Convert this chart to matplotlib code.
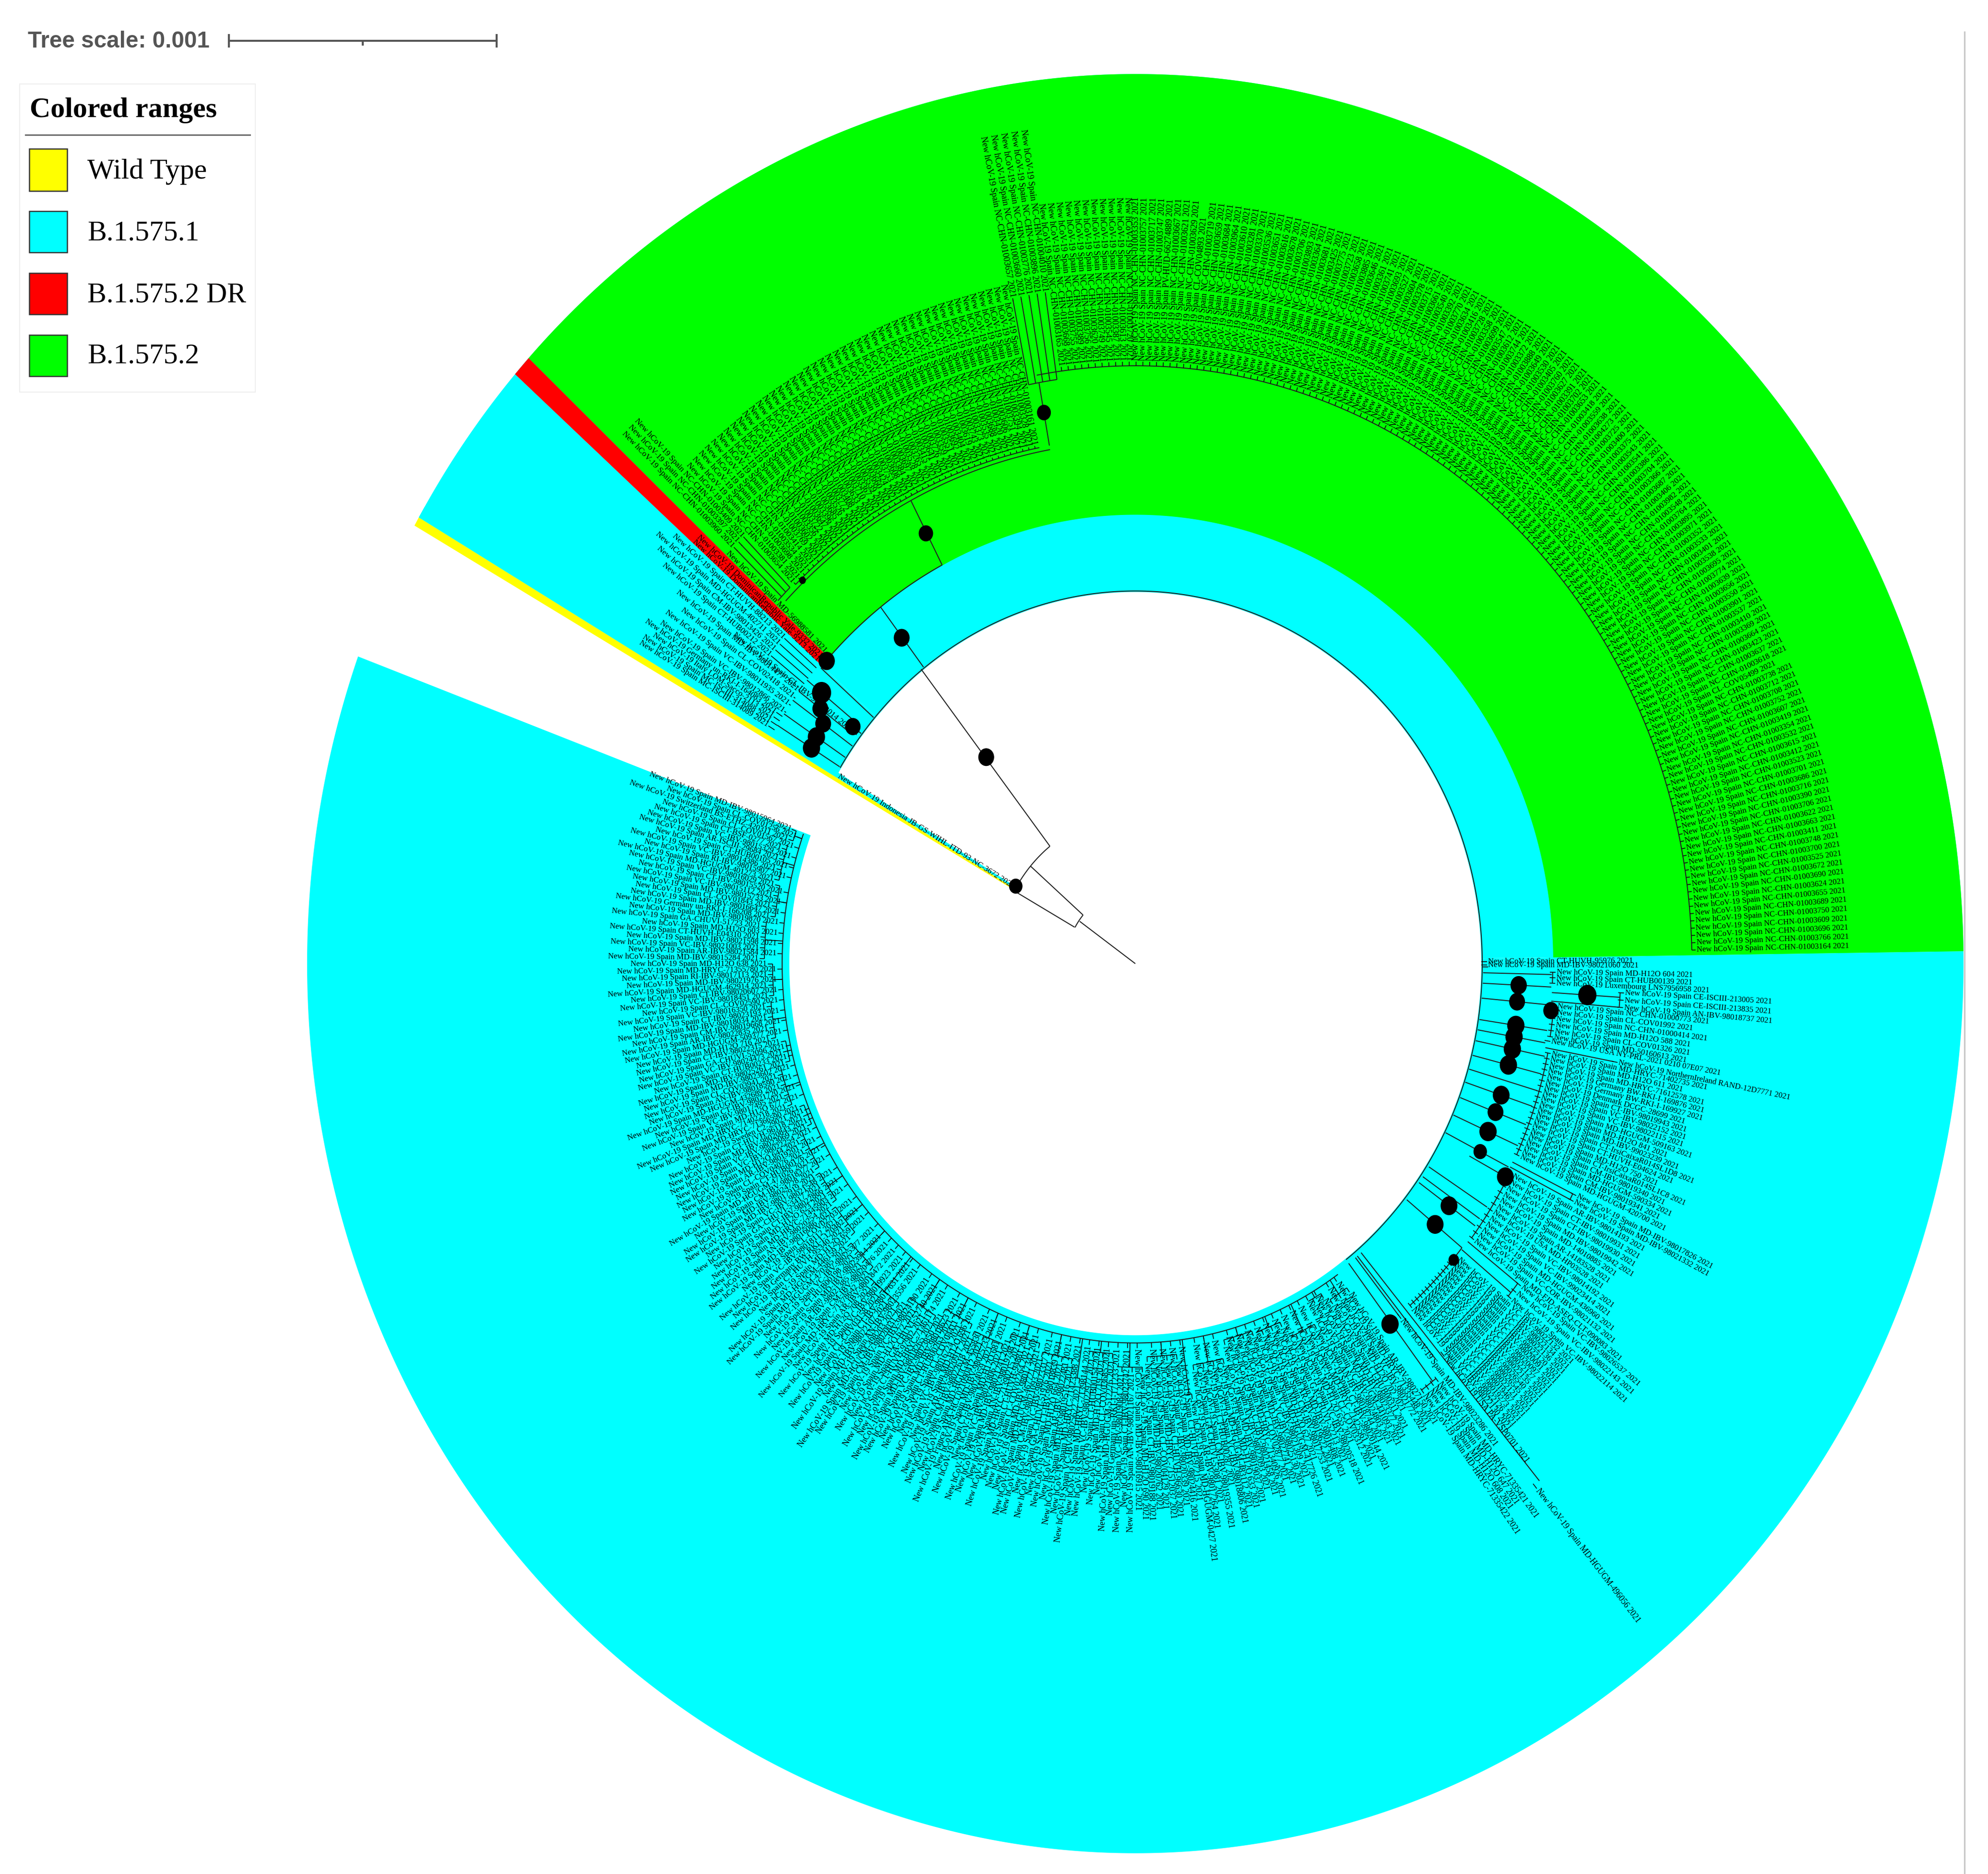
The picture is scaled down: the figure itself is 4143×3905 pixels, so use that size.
import numpy as np
import matplotlib
matplotlib.use("Agg")
import matplotlib.pyplot as plt
from matplotlib.collections import LineCollection
from matplotlib.patches import Rectangle, Ellipse

# ---------- data ----------
legend_names = ["Wild Type", "B.1.575.1", "B.1.575.2 DR", "B.1.575.2"]
legend_colors = ["#ffff00", "#00ffff", "#ff0000", "#00ff00"]

# colored ranges: colour, angle from, angle to, inner radius (outer = tree edge)
ranges = [
    ("#00ffff", -200.2, 0.8, 721), ("#00ffff", 0.8, 138.5, 721), ("#00ffff", 138.5, 149.9, 721),
    ("#00ffff", 149.1, 149.9, 291), ("#ffff00", 149.9, 150.5, 291),
    ("#00ff00", 0.8, 137.1, 871), ("#ff0000", 137.1, 138.5, 871),
]

green_low = """3164 3766 3696 3609 3750 3689 3655 3624 3690 3672 3525 3700 3748 3411 3663 3622 3706 3390 3716 3686
3701 3523 3412 3615 3532 3354 3419 3607 3752 3708 3712 3738 CL-COV05499 3618 3637 3423 3664 3369 3410 3537
3901 3550 3656 3639 3774 3695 3538 3401 3533 3352 3971 3895 3764 3548 3982 3406 3687 3366 3704 3386
3541 3543 3375 3400 3725 4273 3638 3559 3418 3653 3702 3391 3627 3760 3405 3530 3649 3888 3372 3744
3612 3547 3699 3358 3728 3416 3634 3770 3392 3540 3661 3715 3378 3604 3527 3693 3741 3361 3646 3885
3658 3723 3775 3425 3681 3364 3893 3706 3678 3616 3651 3536 3370 3281 3610 3964 3684 3659 3719 CL-COV04893
3629 3621 3667 PV-HUD-66274889 3747 3717 3757 3353 3720 3613 3387 3545 3749 3620 3756 3389 3755 3668 3165""".split()
green_top = "4010 3896 3776 3660 3657".split()
green_left = """3161 3328 3394 3751 3606 3420 3688 3535 3373 3743 3619 3404 3692 3551 3359 3726 3641 3415 3765 3528
3697 3384 3608 3753 3424 3660 3539 3367 3710 3633 3408 3772 3526 3685 3396 3647 3722 3356 3602 3769
3414 3534 3698 3381 3654""".split()
green_long = "3409 3397 3960".split()
green_single = ["MD-56988581"]
dominican = ["DominicanRepublic:Yale-9332", "DominicanRepublic:Yale-9213"]
indonesia = ["Indonesia:JB-GS-WIHL-ITD-93-NC-3672"]

cluster_left_a = ["CL-IBV-98012014"]
cluster_left_b1 = ["CT-HUVH-88213", "MD-HGUGM-402711", "CM-IBV-98013426", "CT-HUB00212"]
cluster_left_b2 = ["MD-IBV-98014477", "CL-COV02418", "VC-IBV-98011935", "VC-IBV-98012866"]
cluster_left_c = ["Germany:un-RKI-I-164083", "Italy:LOM-Sacco-2113", "MC-ISCIII-314088", "MC-ISCIII-314089"]

right_clades = [
    (0.5, 0.0, 735, ["CT-HUVH-95976", "MD-IBV-98021060"]),
    (-0.9, -2.3, 878, ["MD-H12O 604", "CT-HUB00139", "Luxembourg:LNS7956958"]),
    (-3.0, -4.6, 1022, ["CE-ISCIII-213005", "CE-ISCIII-213835", "AN-IBV-98018737"]),
    (-5.2, -9.1, 884, ["NC-CHN-01000773", "CL-COV01992", "NC-CHN-01000414", "MD-H12O 588", "CL-COV01326", "MD-50160613"]),
    (-9.7, -9.7, 880, ["USA:NY-PRL-2021 0210 07E07"]),
    (-10.6, -10.6, 1025, ["NorthernIreland:RAND-12D7771"]),
    (-11.2, -24.8, 885, ["MD-HRYC-71402735", "MD-H12O 611", "MD-HRYC-71612578", "Germany:BW-RKI-I-169876", "Germany:BW-RKI-I-169927",
                         "Denmark:DCGC-28699", "CT-IBV-98019943", "VC-IBV-98022152", "VC-IBV-98022115", "MD-HGUGM-509163",
                         "MD-H12O 841", "MD-IBV-99023239", "CT-IrsiCaixaR014SL1D8", "CT-HUVH-E04624", "MD-H12O 750",
                         "CT-IrsiCaixaR014SL1C8", "CM-IBV-98019340", "MD-HGUGM-590334", "CM-IBV-98019341", "MD-HGUGM-420700"]),
    (-25.9, -26.6, 1025, ["MD-IBV-98017826", "MD-IBV-98021332"]),
    (-27.4, -37.0, 888, ["AR-IBV-98014193", "CT-IBV-98019931", "CT-IBV-98019930", "MD-IBV-98019942", "MD-14010885",
                         "AR-14183528", "USA:MD-HP03528", "VC-IBV-98014192", "VC-IBV-99023414", "MD-HGUGM-436960",
                         "VC-COR-IBV-98021132", "MD-FJD-ASEQ-CLT-090083"]),
    (-37.7, -39.5, 1020, ["VC-IBV-98026537", "VC-IBV-98022143", "VC-IBV-98022114"]),
    (-40.2, -49.0, 884, ["VC-IBV-98022132", "VC-IBV-98022134", "VC-IBV-98022136", "VC-IBV-98022120", "VC-IBV-98020091",
                         "VC-IBV-98020097", "VC-IBV-98022127", "VC-IBV-98022135", "VC-IBV-98026540", "VC-IBV-98026545",
                         "VC-IBV-98022121", "VC-IBV-98019467", "VC-IBV-98019273", "VC-IBV-98022126", "VC-IBV-98022130"]),
    (-49.6, -49.6, 1000, ["USA:PA-VSP0701"]),
    (-50.4, -50.4, 1320, ["MD-HGUGM-496056"]),
    (-51.0, -51.0, 886, ["MD-IBV-98023286"]),
    (-51.9, -54.0, 1030, ["MD-HRYC-71335421", "MD-H12O 647", "MD-H12O 608", "MD-HRYC-71335422"]),
]

# big B.1.575.1 clade, clockwise from lower right: tip radius, strain names
big_clades = [
    (780, "AR-IBV-98027150,MD-HRYC-71335448,VC-IBV-98021772,MD-H12O 702,CT-HUB00311"),
    (760, "MD-IBV-98023377,MD-HGUGM-441093,VC-IBV-98024803,AN-IBV-98018744"),
    (805, "CT-IBV-98020144,MD-HRYC-71425561,CL-COV03312,MD-H12O 655,VC-IBV-98020518,GA-CHUVI-52213"),
    (770, "MD-IBV-98016408,AR-IBV-98019622,CM-IBV-98017753,MD-H12O 627,MD-HGUGM-417726,VC-IBV-98021309"),
    (765, "VC-IBV-98025130,MD-IBV-98022741,CL-COV02877,MD-HRYC-71340926,CT-IBV-98021458,AN-IBV-98022093,MD-IBV-98019037"),
    (800, "MD-H12O 633,MD-HGUGM-483112,VC-IBV-98018806,CT-HUB00287,CM-IBV-98019355,GA-CHUVI-53081,AR-IBV-98017264"),
    (855, "MD-HGUGM-0427,CT-HUVH-97215"),
    (775, "MD-IBV-98024416,VC-IBV-98020339,CT-HUVH-96630,MD-HRYC-71512037,CL-COV04129,MD-IBV-98020762,CT-IBV-98019188"),
    (795, "MD-H12O 690,MD-IBV-98016915,AN-IBV-98021167,CT-IBV-98023742,VC-IBV-98019084,Germany:un-RKI-I-171233"),
    (770, "MD-HGUGM-512276,CL-COV03685,MD-H12O 719,CT-HUB00154,VC-IBV-98022977,MD-HRYC-71398144"),
    (825, "VC-IBV-98025622,MD-HRYC-71423388"),
    (790, "MD-IBV-98019516,AR-IBV-98022481,MD-H12O 664,CT-IBV-98018839,GA-CHUVI-51976,VC-IBV-98023317,CM-IBV-98021093"),
    (775, "MD-HGUGM-467721,MD-IBV-98017342,CL-COV02264,CT-HUVH-94881,MD-HRYC-71390215,AN-IBV-98019748,MD-IBV-98021241"),
    (800, "VC-IBV-98021806,MD-H12O 681,CT-IBV-98024059,MD-IBV-98025733,France:ARA-HCL021090412,MD-HGUGM-455830,CM-IBV-98022618"),
    (790, "AR-IBV-98020917,MD-H12O 696,VC-IBV-98016724,CL-COV04411,CT-HUB00263,MD-IBV-98018623,VC-IBV-98023850"),
    (812, "MD-IBV-98018265,MD-HRYC-71461174,CT-HUVH-97902,GA-CHUVI-52740,MD-H12O 672,VC-IBV-98024190,CM-IBV-98020031"),
    (835, "MD-HGUGM-498203,AN-IBV-98023556,MD-IBV-98022107,CT-IBV-98017631,CL-COV03158,VC-IBV-98019923,MD-H12O 708,AR-IBV-98018472"),
    (815, "MD-HRYC-71378642,CM-IBV-98020476,AR-IBV-98021385,MD-IBV-98023914,CT-HUB00198,VC-IBV-98025377,MD-HGUGM-470385"),
    (795, "MD-HGUGM-446159,MD-H12O 659,CT-HUVH-95340,Germany:BW-RKI-I-170482,VC-IBV-98018112,CL-COV02703,MD-IBV-98016086"),
    (785, "AN-IBV-98020254,MD-HRYC-71445903,MD-H12O 623,CT-IBV-98022866,GA-CHUVI-53417,VC-IBV-98021548,MD-IBV-98017919"),
    (780, "MD-IBV-98024728,CM-IBV-98018377,MD-HGUGM-471026,CT-HUB00176,CL-COV04076,AR-IBV-98019201,MD-H12O 644,VC-IBV-98022254"),
    (755, "VC-IBV-98023069,MD-IBV-98020843,CT-HUVH-96118,Sweden:C2-29021,MD-HRYC-71366590"),
    (778, "MD-HRYC-71402218,MD-H12O 677,VC-IBV-98017495,CT-IBV-98021720,MD-HGUGM-432689,AN-IBV-98018590,CL-COV03941,MD-IBV-98023602"),
    (756, "MD-IBV-98025261,CT-HUB00233,VC-IBV-98024473,GA-CHUVI-52096,CT-IBV-98022315"),
    (775, "MD-H12O 716,MD-HGUGM-509377,AR-IBV-98022835,CM-IBV-98019668,MD-IBV-98018034,CT-IBV-98023193,VC-IBV-98016350,CL-COV02590"),
    (768, "VC-IBV-98018451,CT-IBV-98020607,MD-HGUGM-462914,MD-IBV-98021976,RI-IBV-98017113,MD-HRYC-71355780,MD-H12O 638"),
    (785, "MD-IBV-98015284,AR-IBV-98021584,VC-IBV-98021003,MD-IBV-98021598,CT-HUVH-E04310,MD-H12O 603,GA-CHUVI-51723,MD-IBV-98019870"),
    (768, "Germany:un-RKI-I-166208,MD-IBV-98016647,CL-COV01843,MD-IBV-98015733,VC-IBV-98015112,CT-IBV-98015520,VC-IBV-98016029"),
    (772, "MD-HGUGM-401273,RI-IBV-98015907,VC-IBV-98014386,CT-HUB00105,AR-ISCIII-29684,VC-IBV-98015329,CT-BSF-0277,CL-COV01567"),
    (764, "Switzerland:BS-ETHZ-420311,CL-COV01256,MD-IBV-98015964"),
]

# node markers: angle, radius, width in tree units
nodes_theta = [-3.0, -5.3, -6.0, -3.7, -8.6, -10.2, -11.9, -14.2, -18.5, -21.0, -23.9, -26.9, -28.2, -35.7, -39.0, -40.9, -52.8,
               117.6, 100.1, 127.6, 127.8, 148.9, 137.6, 133.0, 141.2, 143.0, 144.4, 146.5, 148.2, 142.0]
nodes_r = [800, 799, 871, 944, 802, 802, 803, 802, 804, 804, 804, 806, 875, 805, 804, 878, 878,
           942, 1086, 798, 507, 291, 871, 1017, 839, 822, 800, 797, 794, 747]
nodes_w = [34, 33, 32, 38, 36, 36, 36, 36, 35, 33, 36, 28, 35, 35, 35, 22, 36,
           30, 29, 33, 33, 28, 34, 14, 40, 33, 33, 36, 36, 32]

# tree edges
radial_edges = [
    (144.7, 0, 142), (139.1, 144, 289), (150.8, 145, 291), (128.0, 289, 725), (127.5, 725, 872), (138.8, 725, 871),
    (117.5, 872, 1013), (100.1, 1021, 1145), (-0.5, 722, 735), (-1.4, 725, 868), (-3.0, 725, 868), (-5.3, 725, 868),
    (-3.7, 870, 1012), (-4.8, 870, 1012), (-8.6, 725, 868), (-10.2, 725, 868), (-10.8, 870, 1015), (-11.9, 725, 872), (-14.2, 725, 872),
    (-16.4, 725, 872), (-18.5, 725, 872), (-21.0, 725, 872), (-23.9, 725, 872), (-26.9, 725, 872), (-26.1, 875, 1015), (-26.8, 875, 1015),
    (-28.2, 790, 875), (-32.8, 728, 872), (-34.6, 728, 872), (-35.7, 728, 872), (-39.0, 728, 876), (-37.9, 878, 1010), (-39.2, 878, 1010),
    (-50.0, 732, 1310), (-50.8, 732, 990), (-52.6, 732, 1020), (-51.2, 732, 876),
    (142.0, 725, 747), (141.2, 747, 878), (143.0, 747, 878), (144.4, 725, 878), (146.5, 725, 878), (148.2, 725, 878),
    (134.6, 1025, 1155), (135.3, 1025, 1155), (136.0, 1025, 1155), (133.0, 1013, 1021), (136.8, 871, 880),
    (98.2, 1145, 1312), (98.95, 1145, 1312), (99.7, 1145, 1312), (100.45, 1145, 1312), (101.2, 1145, 1312),
]
arc_edges = [
    (-52.6, 148.3, 723), (-200.0, -55.0, 736), (117.5, 138.0, 872), (134.6, 136.6, 1025), (100.1, 136.0, 1013), (101.3, 133.9, 1021),
    (1.3, 100.2, 1160), (98.2, 101.2, 1145), (128.0, 150.6, 289), (139.1, 150.8, 144),
    (-9.3, -5.4, 876), (-25.0, -11.4, 877), (-26.8, -26.1, 1015), (-37.2, -27.6, 880), (-39.7, -37.9, 1010),
    (-49.2, -39.0, 876), (-2.5, -1.1, 870), (-4.8, -3.2, 1012), (-54.2, -52.1, 1020), (141.2, 143.0, 747),
]

# ---------- layout ----------
W, H = 4143, 3905
CX, CY, K, R = 2366, 2008, 1.074, 1726
LABEL_FS = 4.03
LEAF_LW = 0.42
BIG_INNER_TIP = 748
RIGHT_SHIFT = -0.2

fig = plt.figure(figsize=(W / 300, H / 300), dpi=300)
ax = fig.add_axes([0, 0, 1, 1])
ax.set_xlim(0, W)
ax.set_ylim(H, 0)
ax.axis("off")


def P(theta, r):
    t = np.radians(theta)
    return CX + np.multiply(r, np.cos(t)), CY - K * np.multiply(r, np.sin(t))


def arc(t0, t1, r):
    t = np.linspace(t0, t1, max(3, int(abs(t1 - t0) * 2) + 2))
    return np.column_stack(P(t, r))


def full_name(entry):
    if entry.isdigit():
        return f"New hCoV-19 Spain NC-CHN-0100{entry} 2021"
    if ":" in entry:
        country, name = entry.split(":", 1)
        return f"New hCoV-19 {country} {name} 2021"
    return f"New hCoV-19 Spain {entry} 2021"


def leaf(theta, r, entry):
    x, y = P(theta, r)
    t = np.radians(theta)
    a = np.degrees(np.arctan2(K * np.sin(t), np.cos(t)))
    if np.cos(t) >= 0:
        rot, ha = a, "left"
    else:
        rot, ha = a + 180, "right"
    # the whole tree is stretched vertically, so radial labels grow with their slope
    stretch = np.hypot(np.cos(t), K * np.sin(t))
    ax.text(x, y, full_name(entry), rotation=rot, rotation_mode="anchor", ha=ha, va="center",
            fontsize=LABEL_FS * stretch, family="Liberation Serif", color="black", zorder=5)


def clade(t0, t1, r, names, stub=14):
    th = np.linspace(t0, t1, len(names)) if len(names) > 1 else [t0]
    for t, n in zip(th, names):
        leaf(t, r, n)
        stubs.append(np.column_stack(P(np.array([t, t]), np.array([r - stub, r - 2]))))


stubs = []

# coloured ranges
for col, t0, t1, r0 in ranges:
    outer = arc(t0, t1, R)
    inner = arc(t1, t0, r0)
    poly = np.vstack([outer, inner])
    ax.fill(poly[:, 0], poly[:, 1], color=col, lw=0, zorder=1, antialiased=True)

# leaves in green and red parts
clade(1.3, 97.6, 1170, green_low, stub=10)
clade(98.2, 101.2, 1318, green_top, stub=8)
clade(101.8, 133.9, 1028, green_left, stub=7)
clade(134.6, 136.0, 1165, green_long, stub=12)
clade(136.8, 136.8, 885, green_single)
clade(137.7, 138.3, 885, dominican)
clade(149.5, 149.5, 295, indonesia, stub=2)

# small cyan group beside the red range
clade(142.6, 142.6, 745, cluster_left_a)
clade(139.2, 141.8, 968, cluster_left_b1, stub=90)
clade(142.9, 146.2, 882, cluster_left_b2, stub=6)
clade(146.9, 148.9, 895, cluster_left_c, stub=17)

for t0, t1, r, names in right_clades:
    clade(t0 + RIGHT_SHIFT, t1 + RIGHT_SHIFT, r, names)

# large clade: all its leaves are spaced evenly from -55 to -200 degrees
n_big = sum(len(s.split(",")) for _, s in big_clades)
th_big = np.linspace(-55.0, -200.0, n_big)
i = 0
for r_tip, s in big_clades:
    names = s.split(",")
    th = th_big[i:i + len(names)]
    i += len(names)
    for j, (t, n) in enumerate(zip(th, names)):
        # within a clade some leaves hang directly off the base arc, others from the clade's own arc
        tip = r_tip if j % 2 == 0 else BIG_INNER_TIP
        leaf(t, tip, n)
        stubs.append(np.column_stack(P(np.array([t, t]), np.array([tip - 12, tip - 2]))))
    stubs.append(arc(th[0], th[-1], r_tip - 12))
    mid = 0.5 * (th[0] + th[-1])
    stubs.append(np.column_stack(P(np.array([mid, mid]), np.array([736, r_tip - 12]))))

# tree
segs = [np.column_stack(P(np.array([t, t]), np.array([a, b]))) for t, a, b in radial_edges]
segs += [arc(a, b, r) for a, b, r in arc_edges]
ax.add_collection(LineCollection(segs, colors="#222222", linewidths=0.5, zorder=4))
ax.add_collection(LineCollection(stubs, colors="#111111", linewidths=LEAF_LW, zorder=4))

# node markers
for t, r, w in zip(nodes_theta, nodes_r, nodes_w):
    x, y = P(t, r)
    ax.add_patch(Ellipse((x, y), w, w * 1.12, fc="black", ec="none", zorder=6))

# right hand rule of the page
ax.plot([4094, 4094], [65, 3905], color="#c9c9c9", lw=0.8, zorder=7, solid_capstyle="butt")

# tree scale
GREY = "#555555"
ax.text(58, 99, "Tree scale: 0.001", family="Liberation Sans", fontweight="bold", fontsize=11.45,
        color=GREY, va="baseline", ha="left")
ax.plot([477, 1035], [85, 85], color=GREY, lw=1.0, solid_capstyle="butt")
ax.plot([477, 477], [71, 99], color=GREY, lw=1.0, solid_capstyle="butt")
ax.plot([1035, 1035], [71, 99], color=GREY, lw=1.0, solid_capstyle="butt")
ax.plot([756, 756], [85, 95], color=GREY, lw=1.0, solid_capstyle="butt")

# legend
ax.add_patch(Rectangle((41, 175), 491, 642, fc="white", ec="#eeeeee", lw=0.5, zorder=2))
ax.text(62, 244, "Colored ranges", family="Liberation Serif", fontweight="bold", fontsize=14.4,
        va="baseline", ha="left", color="black", zorder=3)
ax.plot([53, 521], [281, 281], color="#666666", lw=0.7, zorder=3)
sw_top = [310, 440, 569, 698]
sw_h = [88, 86, 86, 86]
txt_y = [358, 486, 615, 742]
for name, col, y0, h, ty in zip(legend_names, legend_colors, sw_top, sw_h, txt_y):
    ax.add_patch(Rectangle((61, y0), 79, h, fc=col, ec="#333333", lw=0.6, zorder=3))
    ax.text(182, ty, name, family="Liberation Serif", fontsize=14.3, va="center", ha="left", color="black", zorder=3)

fig.savefig("out.png", dpi=300)
